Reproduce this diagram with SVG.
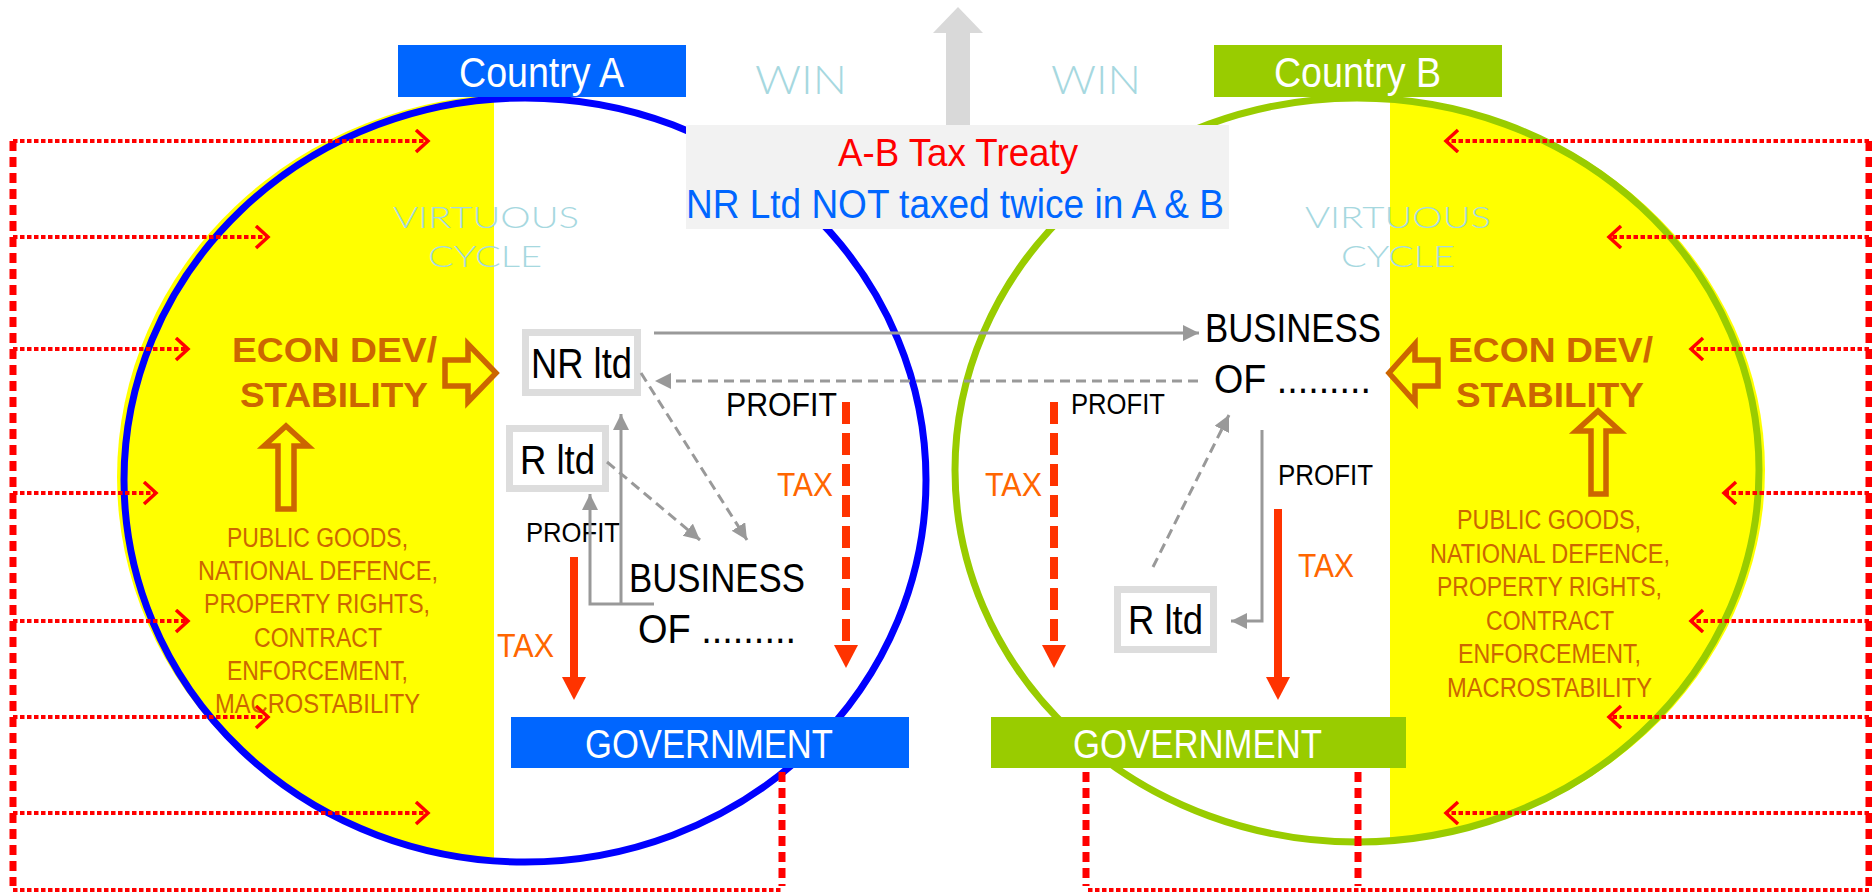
<svg xmlns="http://www.w3.org/2000/svg" width="1872" height="893" viewBox="0 0 1872 893">
<style>
text{font-family:"Liberation Sans Narrow","Liberation Sans",Arial,sans-serif;}
.wh{fill:#FFFFFF;font-size:42px;}
.lt{fill:#A6D8DF;font-family:Lato,"Liberation Sans",sans-serif;font-weight:300;}
.econ{fill:#CC6600;font-size:35px;font-weight:bold;}
.pg{fill:#CC6600;font-size:27px;}
.blk{fill:#000000;}
.tax{fill:#FF6600;font-size:34px;}
.dot{fill:none;stroke:#FF0000;stroke-width:4;stroke-dasharray:4.5 2.5;}
.vd{fill:none;stroke:#FF0000;stroke-width:7;stroke-dasharray:10 6;}
.ga{fill:none;stroke:#999999;stroke-width:3;}
.gd{fill:none;stroke:#999999;stroke-width:3;stroke-dasharray:10 6;}
.blockarrow{fill:none;stroke:#CC6600;stroke-width:5.5;}
.box{fill:#FFFFFF;stroke:#DDDDDD;stroke-width:7;}
</style>
<defs>
<clipPath id="clipL"><rect x="0" y="0" width="494" height="893"/></clipPath>
<clipPath id="clipR"><rect x="1390" y="0" width="482" height="893"/></clipPath>
<marker id="chev" markerUnits="userSpaceOnUse" markerWidth="20" markerHeight="26" refX="14" refY="12" orient="auto">
<path d="M2,1 L14,12 L2,23" fill="none" stroke="#FF0000" stroke-width="3.5"/>
</marker>
<marker id="garr" markerUnits="userSpaceOnUse" markerWidth="18" markerHeight="18" refX="16" refY="8" orient="auto">
<path d="M0,0 L16,8 L0,16 z" fill="#999999"/>
</marker>
</defs>

<g id="background">
<ellipse cx="521" cy="477" rx="404" ry="383" fill="#FFFF00" clip-path="url(#clipL)"/>
<ellipse cx="1360" cy="470" rx="405" ry="373" fill="#FFFF00" clip-path="url(#clipR)"/>
<text class="lt" x="393" y="228" font-size="30" textLength="186" lengthAdjust="spacingAndGlyphs">VIRTUOUS</text>
<text class="lt" x="428" y="267" font-size="30" textLength="114" lengthAdjust="spacingAndGlyphs">CYCLE</text>
<text class="lt" x="1305" y="228" font-size="30" textLength="186" lengthAdjust="spacingAndGlyphs">VIRTUOUS</text>
<text class="lt" x="1341" y="267" font-size="30" textLength="114" lengthAdjust="spacingAndGlyphs">CYCLE</text>
<ellipse cx="525" cy="480" rx="401" ry="382" fill="none" stroke="#0000FF" stroke-width="7"/>
<ellipse cx="1357" cy="470" rx="402" ry="372" fill="none" stroke="#99CC00" stroke-width="7"/>
<text class="lt" x="755" y="94" font-size="40" textLength="92" lengthAdjust="spacingAndGlyphs">WIN</text>
<text class="lt" x="1051" y="94" font-size="40" textLength="90" lengthAdjust="spacingAndGlyphs">WIN</text>
<polygon points="946,125 946,33 933,33 958,7 983,33 970,33 970,125" fill="#D9D9D9"/>
</g>

<g id="treaty">
<rect x="686" y="125" width="543" height="104" fill="#F2F2F2"/>
<text x="838" y="166" font-size="39" fill="#FF0000" textLength="240" lengthAdjust="spacingAndGlyphs">A-B Tax Treaty</text>
<text x="686" y="218" font-size="40" fill="#0066FF" textLength="538" lengthAdjust="spacingAndGlyphs">NR Ltd NOT taxed twice in A &amp; B</text>
</g>

<g id="countryA">
<rect x="398" y="45" width="288" height="52" fill="#0066FF"/>
<text class="wh" x="459" y="87" textLength="165" lengthAdjust="spacingAndGlyphs">Country A</text>
</g>
<g id="countryB">
<rect x="1214" y="45" width="288" height="52" fill="#99CC00"/>
<text class="wh" x="1274" y="87" textLength="167" lengthAdjust="spacingAndGlyphs">Country B</text>
</g>

<g id="govA">
<rect x="511" y="717" width="398" height="51" fill="#0066FF"/>
<text class="wh" x="585" y="758" style="font-size:40px" textLength="248" lengthAdjust="spacingAndGlyphs">GOVERNMENT</text>
</g>
<g id="govB">
<rect x="991" y="717" width="415" height="51" fill="#99CC00"/>
<text class="wh" x="1073" y="758" style="font-size:40px" textLength="249" lengthAdjust="spacingAndGlyphs">GOVERNMENT</text>
</g>

<g id="econA">
<text class="econ" x="232" y="362" textLength="205" lengthAdjust="spacingAndGlyphs">ECON DEV/</text>
<text class="econ" x="240" y="407" textLength="188" lengthAdjust="spacingAndGlyphs">STABILITY</text>
<polygon class="blockarrow" points="445,360 468,360 468,344 496,373 468,402 468,386 445,386"/>
<polygon class="blockarrow" points="278,509 278,446 264,446 286,426 308,446 294,446 294,509"/>
</g>
<g id="econB">
<text class="econ" x="1448" y="362" textLength="205" lengthAdjust="spacingAndGlyphs">ECON DEV/</text>
<text class="econ" x="1456" y="407" textLength="188" lengthAdjust="spacingAndGlyphs">STABILITY</text>
<polygon class="blockarrow" points="1438,360 1415,360 1415,344 1389,373 1415,402 1415,386 1438,386"/>
<polygon class="blockarrow" points="1591,494 1591,431 1576,431 1598,411 1620,431 1606,431 1606,494"/>
</g>

<g id="publicA">
<text class="pg" x="227" y="547" textLength="181" lengthAdjust="spacingAndGlyphs">PUBLIC GOODS,</text>
<text class="pg" x="198" y="580" textLength="240" lengthAdjust="spacingAndGlyphs">NATIONAL DEFENCE,</text>
<text class="pg" x="204" y="613" textLength="226" lengthAdjust="spacingAndGlyphs">PROPERTY RIGHTS,</text>
<text class="pg" x="254" y="647" textLength="128" lengthAdjust="spacingAndGlyphs">CONTRACT</text>
<text class="pg" x="227" y="680" textLength="181" lengthAdjust="spacingAndGlyphs">ENFORCEMENT,</text>
<text class="pg" x="215" y="713" textLength="205" lengthAdjust="spacingAndGlyphs">MACROSTABILITY</text>
</g>
<g id="publicB">
<text class="pg" x="1457" y="529" textLength="184" lengthAdjust="spacingAndGlyphs">PUBLIC GOODS,</text>
<text class="pg" x="1430" y="563" textLength="240" lengthAdjust="spacingAndGlyphs">NATIONAL DEFENCE,</text>
<text class="pg" x="1437" y="596" textLength="225" lengthAdjust="spacingAndGlyphs">PROPERTY RIGHTS,</text>
<text class="pg" x="1486" y="630" textLength="128" lengthAdjust="spacingAndGlyphs">CONTRACT</text>
<text class="pg" x="1458" y="663" textLength="183" lengthAdjust="spacingAndGlyphs">ENFORCEMENT,</text>
<text class="pg" x="1447" y="697" textLength="205" lengthAdjust="spacingAndGlyphs">MACROSTABILITY</text>
</g>

<g id="nrltd">
<rect class="box" x="525.5" y="332.5" width="112" height="60"/>
<text class="blk" x="531" y="378" font-size="42" textLength="101" lengthAdjust="spacingAndGlyphs">NR ltd</text>
</g>
<g id="rltdA">
<rect class="box" x="509.5" y="428.5" width="96" height="60"/>
<text class="blk" x="520" y="474" font-size="41" textLength="75" lengthAdjust="spacingAndGlyphs">R ltd</text>
</g>
<g id="businessA">
<text class="blk" x="629" y="592" font-size="40" textLength="176" lengthAdjust="spacingAndGlyphs">BUSINESS</text>
<text class="blk" x="638" y="643" font-size="40" textLength="158" lengthAdjust="spacingAndGlyphs">OF .........</text>
</g>
<g id="businessB">
<text class="blk" x="1205" y="342" font-size="40" textLength="176" lengthAdjust="spacingAndGlyphs">BUSINESS</text>
<text class="blk" x="1214" y="393" font-size="40" textLength="157" lengthAdjust="spacingAndGlyphs">OF .........</text>
</g>
<g id="rltdB">
<rect class="box" x="1117.5" y="589.5" width="96" height="60"/>
<text class="blk" x="1128" y="634" font-size="41" textLength="75" lengthAdjust="spacingAndGlyphs">R ltd</text>
</g>

<g id="labels">
<text class="blk" x="726" y="416" font-size="34" textLength="111" lengthAdjust="spacingAndGlyphs">PROFIT</text>
<text class="blk" x="1071" y="414" font-size="29" textLength="94" lengthAdjust="spacingAndGlyphs">PROFIT</text>
<text class="blk" x="526" y="542" font-size="28" textLength="94" lengthAdjust="spacingAndGlyphs">PROFIT</text>
<text class="blk" x="1278" y="485" font-size="29" textLength="95" lengthAdjust="spacingAndGlyphs">PROFIT</text>
<text class="tax" x="497" y="657" textLength="57" lengthAdjust="spacingAndGlyphs">TAX</text>
<text class="tax" x="777" y="496" textLength="56" lengthAdjust="spacingAndGlyphs">TAX</text>
<text class="tax" x="985" y="496" textLength="57" lengthAdjust="spacingAndGlyphs">TAX</text>
<text class="tax" x="1298" y="577" textLength="56" lengthAdjust="spacingAndGlyphs">TAX</text>
</g>

<g id="connectors">
<path class="ga" d="M654,333 H1199" marker-end="url(#garr)"/>
<path class="gd" d="M1198,381 H655" marker-end="url(#garr)"/>
<path class="gd" d="M641,373 L747,540" marker-end="url(#garr)"/>
<path class="gd" d="M607,462 L700,540" marker-end="url(#garr)"/>
<path class="ga" d="M654,604 H590 V494" marker-end="url(#garr)"/>
<path class="ga" d="M621,604 V414" marker-end="url(#garr)"/>
<path class="gd" d="M1153,567 L1229,415" marker-end="url(#garr)"/>
<path class="ga" d="M1262,430 V621 H1231" marker-end="url(#garr)"/>
<line x1="574" y1="557" x2="574" y2="679" stroke="#FF3300" stroke-width="8"/>
<polygon points="562,677 586,677 574,700" fill="#FF3300"/>
<line x1="1278" y1="509" x2="1278" y2="679" stroke="#FF3300" stroke-width="8"/>
<polygon points="1266,677 1290,677 1278,700" fill="#FF3300"/>
<line x1="846" y1="402" x2="846" y2="645" stroke="#FF3300" stroke-width="8" stroke-dasharray="22 9"/>
<polygon points="834,645 858,645 846,668" fill="#FF3300"/>
<line x1="1054" y1="402" x2="1054" y2="645" stroke="#FF3300" stroke-width="8" stroke-dasharray="22 9"/>
<polygon points="1042,645 1066,645 1054,668" fill="#FF3300"/>
<path class="vd" d="M13,141 V886"/>
<path class="vd" d="M782,772 V886"/>
<path class="vd" d="M1086,772 V886"/>
<path class="vd" d="M1358,772 V886"/>
<path class="vd" d="M1869,141 V886"/>
<path class="dot" d="M13,890 H782"/>
<path class="dot" d="M1088,890 H1869"/>
<path class="dot" d="M13,141 H428" marker-end="url(#chev)"/>
<path class="dot" d="M13,237 H268" marker-end="url(#chev)"/>
<path class="dot" d="M13,349 H188" marker-end="url(#chev)"/>
<path class="dot" d="M13,493 H156" marker-end="url(#chev)"/>
<path class="dot" d="M13,621 H188" marker-end="url(#chev)"/>
<path class="dot" d="M13,717 H268" marker-end="url(#chev)"/>
<path class="dot" d="M13,813 H428" marker-end="url(#chev)"/>
<path class="dot" d="M1869,141 H1446" marker-end="url(#chev)"/>
<path class="dot" d="M1869,237 H1609" marker-end="url(#chev)"/>
<path class="dot" d="M1869,349 H1691" marker-end="url(#chev)"/>
<path class="dot" d="M1869,493 H1724" marker-end="url(#chev)"/>
<path class="dot" d="M1869,621 H1691" marker-end="url(#chev)"/>
<path class="dot" d="M1869,717 H1609" marker-end="url(#chev)"/>
<path class="dot" d="M1869,813 H1446" marker-end="url(#chev)"/>
</g>
</svg>
